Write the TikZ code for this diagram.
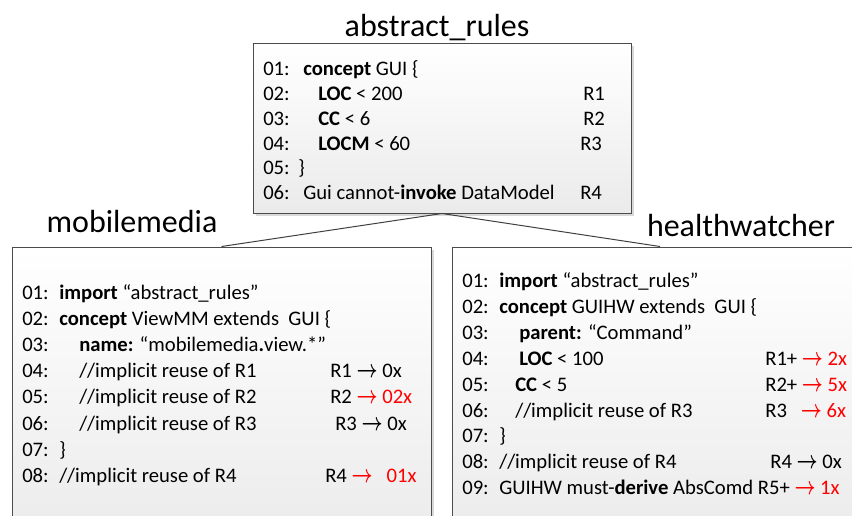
\documentclass[tikz,border=0pt]{standalone}
\usepackage{fontspec}
\setmainfont{Carlito}
\usetikzlibrary{shadows}

\newcommand{\tagarrow}{{\boldmath\scalebox{0.95}[1.3]{$\rightarrow$}}}

\begin{document}
\begin{tikzpicture}[x=0.75pt,y=0.75pt,yscale=-1,xscale=1,
    box/.style={draw=black!70, line width=0.75pt, top color=white, bottom color=black!8,
      drop shadow={shadow xshift=2.5pt, shadow yshift=-2.5pt, fill=black!15, opacity=1}},
    title/.style={anchor=base, inner sep=0pt, font=\fontsize{24}{28}\selectfont},
    code/.style={anchor=base west, inner sep=0pt, font=\fontsize{15.5}{18}\selectfont},
    link/.style={draw=black!75, line width=0.75pt}]
    \useasboundingbox (0,0) rectangle (852,515);
    %Boxes
    \node [box, minimum width=283.5pt, minimum height=127.5pt] (abs) at (442,128) {};
    \node [box, minimum width=314.25pt, minimum height=223.5pt] (mm) at (221.5,396) {};
    \node [box, minimum width=312pt, minimum height=223.5pt] (hw) at (660,396) {};
    %Lines between boxes
    \draw [link] (abs.south) -- (mm.north);
    \draw [link] (abs.south) -- (hw.north);
    % Titles
    \node [title] (abs-t) at (437,36) {abstract\_rules};
    \node [title] (mm-t) at (132,232) {mobilemedia};
    \node [title] (hw-t) at (741,236) {healthwatcher};

    % abstract_rules code
    \node [code] (a1n) at (263,75) {01:};
    \node [code] (a1) at (303,75) {\textbf{concept} GUI \{};
    \node [code] (a2n) at (263,100) {02:};
    \node [code] (a2) at (318,100) {\textbf{LOC} < 200};
    \node [code] (a2r) at (583,100) {R1};
    \node [code] (a3n) at (263,125) {03:};
    \node [code] (a3) at (318,125) {\textbf{CC} < 6};
    \node [code] (a3r) at (583,125) {R2};
    \node [code] (a4n) at (263,150) {04:};
    \node [code] (a4) at (318,150) {\textbf{LOCM} < 60};
    \node [code] (a4r) at (580,150) {R3};
    \node [code] (a5n) at (263,174) {05:};
    \node [code] (a5) at (298,174) {\}};
    \node [code] (a6n) at (263,199) {06:};
    \node [code] (a6) at (303,199) {Gui cannot-\textbf{invoke} DataModel};
    \node [code] (a6r) at (580,199) {R4};

    % mobilemedia code
    \node [code] (m1n) at (22,299) {01:};
    \node [code] (m1) at (59,299) {\textbf{import} “abstract\_rules”};
    \node [code] (m2n) at (22,325) {02:};
    \node [code] (m2) at (59,325) {\textbf{concept} ViewMM extends\ \ GUI \{};
    \node [code] (m3n) at (22,351) {03:};
    \node [code] (m3) at (79,351) {\textbf{name:} “mobilemedia\textbf{.}view.*”};
    \node [code] (m4n) at (22,377) {04:};
    \node [code] (m4) at (79,377) {//implicit reuse of R1};
    \node [code] (m4r) at (330,377) {R1 \tagarrow\ 0x};
    \node [code] (m5n) at (22,403) {05:};
    \node [code] (m5) at (79,403) {//implicit reuse of R2};
    \node [code] (m5r) at (330,403) {R2 \textcolor{red}{\tagarrow\ 02x}};
    \node [code] (m6n) at (22,430) {06:};
    \node [code] (m6) at (79,430) {//implicit reuse of R3};
    \node [code] (m6r) at (335,430) {R3 \tagarrow\ 0x};
    \node [code] (m7n) at (22,456) {07:};
    \node [code] (m7) at (59,456) {\}};
    \node [code] (m8n) at (22,482) {08:};
    \node [code] (m8) at (59,482) {//implicit reuse of R4};
    \node [code] (m8r) at (325,482) {R4 \textcolor{red}{\tagarrow\ \ \ 01x}};

    % healthwatcher code
    \node [code] (h1n) at (462,287) {01:};
    \node [code] (h1) at (499,287) {\textbf{import} “abstract\_rules”};
    \node [code] (h2n) at (462,313) {02:};
    \node [code] (h2) at (499,313) {\textbf{concept} GUIHW extends\ \ GUI \{};
    \node [code] (h3n) at (462,339) {03:};
    \node [code] (h3) at (519,339) {\textbf{parent:} “Command”};
    \node [code] (h4n) at (462,365) {04:};
    \node [code] (h4) at (519,365) {\textbf{LOC} < 100};
    \node [code] (h4r) at (765,365) {R1+ \textcolor{red}{\tagarrow\ 2x}};
    \node [code] (h5n) at (462,391) {05:};
    \node [code] (h5) at (515,391) {\textbf{CC} < 5};
    \node [code] (h5r) at (765,391) {R2+ \textcolor{red}{\tagarrow\ 5x}};
    \node [code] (h6n) at (462,417) {06:};
    \node [code] (h6) at (515,417) {//implicit reuse of R3};
    \node [code] (h6r) at (765,417) {R3\ \ \ \textcolor{red}{\tagarrow\ 6x}};
    \node [code] (h7n) at (462,442) {07:};
    \node [code] (h7) at (499,442) {\}};
    \node [code] (h8n) at (462,468) {08:};
    \node [code] (h8) at (499,468) {//implicit reuse of R4};
    \node [code] (h8r) at (770,468) {R4 \tagarrow\ 0x};
    \node [code] (h9n) at (462,494) {09:};
    \node [code] (h9) at (499,494) {GUIHW must-\textbf{derive} AbsComd R5+ \textcolor{red}{\tagarrow\ 1x}};
\end{tikzpicture}
\end{document}
